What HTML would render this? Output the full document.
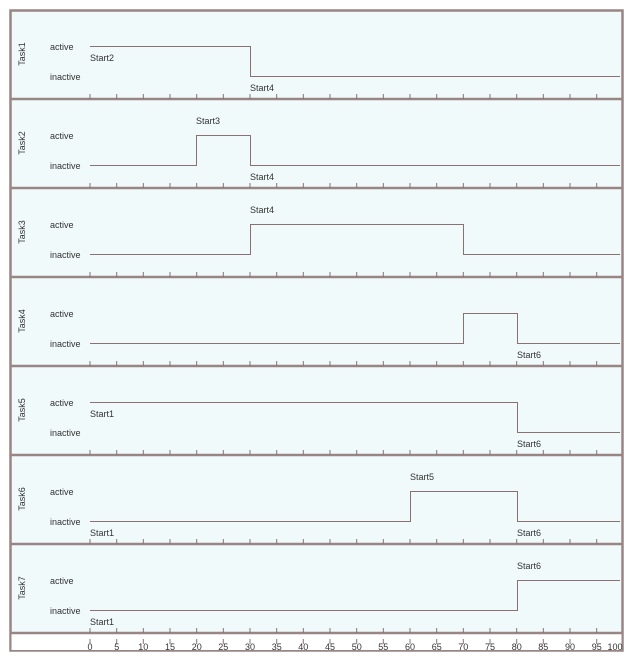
<!DOCTYPE html>
<html><head><meta charset="utf-8"><style>
html,body{margin:0;padding:0;background:#fff;}
svg{display:block;font-family:"Liberation Sans",sans-serif;}
text{font-size:9px;fill:#333;}
</style></head><body>
<svg width="635" height="664" viewBox="0 0 635 664">
<rect x="10.5" y="10.5" width="612" height="640" fill="#f0fafb" stroke="#9a8585" stroke-width="2.5"/>
<rect x="11.5" y="634" width="610" height="16" fill="#fff"/>
<g stroke="#9a8585" stroke-width="2.5">
<line x1="10" y1="99" x2="623" y2="99"/><line x1="10" y1="188" x2="623" y2="188"/>
<line x1="10" y1="277" x2="623" y2="277"/><line x1="10" y1="366" x2="623" y2="366"/>
<line x1="10" y1="455" x2="623" y2="455"/><line x1="10" y1="544" x2="623" y2="544"/>
<line x1="10" y1="633" x2="623" y2="633"/>
</g>
<g id="ticks" stroke="#8a7070" stroke-width="1">
<path d="M90 94v5M116.7 94v5M143.3 94v5M170 94v5M196.7 94v5M223.3 94v5M250 94v5M276.7 94v5M303.3 94v5M330 94v5M356.7 94v5M383.3 94v5M410 94v5M436.7 94v5M463.3 94v5M490 94v5M516.7 94v5M543.3 94v5M570 94v5M596.7 94v5"/>
</g>
<use href="#ticks" y="89"/><use href="#ticks" y="178"/><use href="#ticks" y="267"/><use href="#ticks" y="356"/><use href="#ticks" y="445"/><use href="#ticks" y="534"/><use href="#ticks" y="545"/>
<g fill="none" stroke="#8a7070" stroke-width="1">
<path d="M90 46.5H250.5V76.5H620"/>
<path d="M90 165.5H196.5V135.5H250.5V165.5H620"/>
<path d="M90 254.5H250.5V224.5H463.5V254.5H620"/>
<path d="M90 343.5H463.5V313.5H517.5V343.5H620"/>
<path d="M90 402.5H517.5V432.5H620"/>
<path d="M90 521.5H410.5V491.5H517.5V521.5H620"/>
<path d="M90 610.5H517.5V580.5H620"/>
</g>
<g>
<text x="50" y="50">active</text><text x="50" y="80">inactive</text>
<text x="50" y="139">active</text><text x="50" y="169">inactive</text>
<text x="50" y="228">active</text><text x="50" y="258">inactive</text>
<text x="50" y="317">active</text><text x="50" y="347">inactive</text>
<text x="50" y="406">active</text><text x="50" y="436">inactive</text>
<text x="50" y="495">active</text><text x="50" y="525">inactive</text>
<text x="50" y="584">active</text><text x="50" y="614">inactive</text>
</g>
<g>
<text transform="translate(25,54) rotate(-90)" text-anchor="middle">Task1</text>
<text transform="translate(25,143) rotate(-90)" text-anchor="middle">Task2</text>
<text transform="translate(25,232) rotate(-90)" text-anchor="middle">Task3</text>
<text transform="translate(25,321) rotate(-90)" text-anchor="middle">Task4</text>
<text transform="translate(25,410) rotate(-90)" text-anchor="middle">Task5</text>
<text transform="translate(25,499) rotate(-90)" text-anchor="middle">Task6</text>
<text transform="translate(25,588) rotate(-90)" text-anchor="middle">Task7</text>
</g>
<g>
<text x="90" y="61">Start2</text><text x="250" y="91">Start4</text>
<text x="196" y="124">Start3</text><text x="250" y="180">Start4</text>
<text x="250" y="213">Start4</text>
<text x="517" y="358">Start6</text>
<text x="90" y="417">Start1</text><text x="517" y="447">Start6</text>
<text x="410" y="480">Start5</text><text x="90" y="536">Start1</text><text x="517" y="536">Start6</text>
<text x="517" y="569">Start6</text><text x="90" y="625">Start1</text>
</g>
<g text-anchor="middle" style="font-size:8.5px">
<text x="90" y="650">0</text><text x="116.7" y="650">5</text><text x="143.3" y="650">10</text><text x="170" y="650">15</text><text x="196.7" y="650">20</text><text x="223.3" y="650">25</text><text x="250" y="650">30</text><text x="276.7" y="650">35</text><text x="303.3" y="650">40</text><text x="330" y="650">45</text><text x="356.7" y="650">50</text><text x="383.3" y="650">55</text><text x="410" y="650">60</text><text x="436.7" y="650">65</text><text x="463.3" y="650">70</text><text x="490" y="650">75</text><text x="516.7" y="650">80</text><text x="543.3" y="650">85</text><text x="570" y="650">90</text><text x="596.7" y="650">95</text><text x="615" y="650">100</text>
</g>
</svg>
</body></html>
